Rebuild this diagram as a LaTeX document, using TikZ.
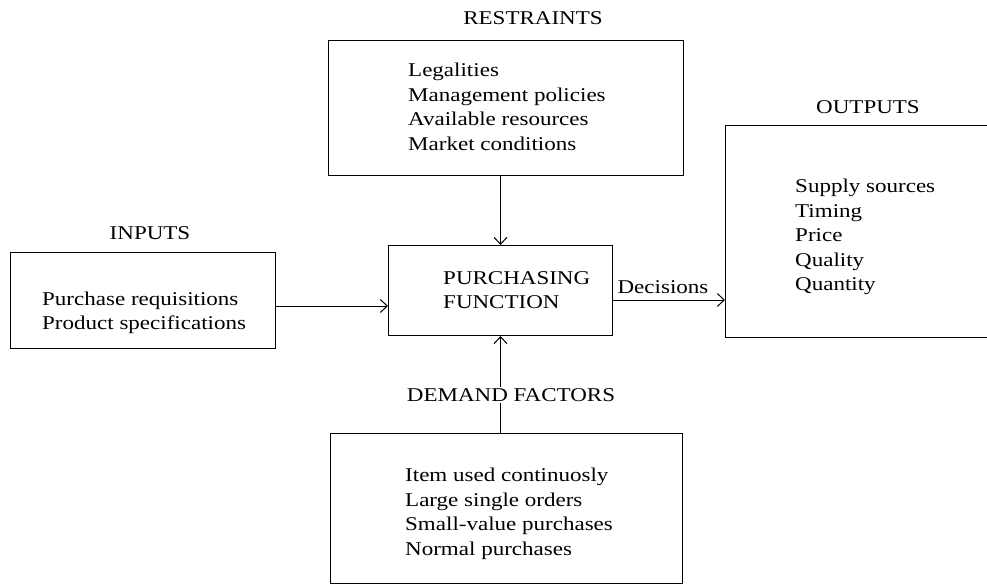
\documentclass[tikz,border=0pt]{standalone}
\usepackage{fontspec}
\setmainfont{Liberation Serif}[FakeStretch=1.18]
\usetikzlibrary{arrows.meta}
\tikzset{
  box/.style={draw, line width=1pt, inner sep=0pt, anchor=north west},
  txt/.style={inner sep=0pt, align=left, anchor=west, font=\fontsize{19.5}{24.5}\selectfont},
  lbl/.style={inner sep=1pt, font=\fontsize{19.5}{24}\selectfont},
  arr/.style={line width=1pt, -{Straight Barb[length=7pt,width=13pt,line width=1pt]}}
}
\begin{document}
\begin{tikzpicture}[x=1pt,y=-1pt]
\useasboundingbox (0,0) rectangle (987,588);
% boxes
\node[box, minimum width=355pt, minimum height=135pt] (restr) at (328,40) {};
\node[box, minimum width=224pt, minimum height=90pt] (purch) at (388,245) {};
\node[box, minimum width=265pt, minimum height=96pt] (inp) at (10,252) {};
\node[box, minimum width=275pt, minimum height=212pt] (outp) at (725,125) {};
\node[box, minimum width=352pt, minimum height=150pt] (dem) at (330,433) {};
% labels
\node[lbl] (lrestr) at (533,18) {RESTRAINTS};
\node[lbl] (linp) at (150,233) {INPUTS};
\node[lbl] (loutp) at (868,107) {OUTPUTS};
% box texts
\node[txt] (trestr) at (408,107) {Legalities\\Management policies\\Available resources\\Market conditions};
\node[txt] (tpurch) at (443,290) {PURCHASING\\FUNCTION};
\node[txt] (tinp) at (42,313) {Purchase requisitions\\Product specifications};
\node[txt] (toutp) at (795,237) {Supply sources\\Timing\\Price\\Quality\\Quantity};
\node[txt] (tdem) at (405,514) {Item used continuosly\\Large single orders\\Small-value purchases\\Normal purchases};
% connectors
\coordinate (yin) at (0,306);
\coordinate (ydec) at (0,300);
\draw[arr] (purch.north |- restr.south) -- (purch.north);
\draw[arr] (inp.east |- yin) -- (purch.west |- yin);
\draw[arr] (purch.east |- ydec) -- (outp.west |- ydec);
\draw[arr] (purch.south |- dem.north) -- (purch.south);
\node[lbl, fill=white] (ldem) at (511,395) {DEMAND FACTORS};
\node[lbl, anchor=south] (ldec) at (663,295) {Decisions};
\end{tikzpicture}
\end{document}
